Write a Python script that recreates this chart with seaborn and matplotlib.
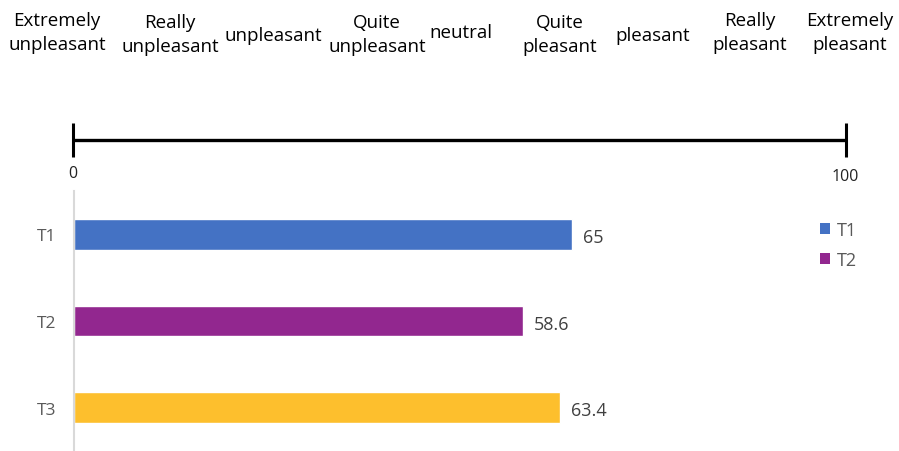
import numpy as np
import pandas as pd
import matplotlib
matplotlib.use("Agg")
import matplotlib.pyplot as plt
import seaborn as sns
from matplotlib.patches import Patch

# ---- data ----
categories = ["T1", "T2", "T3"]
values = [65, 58.6, 63.4]
value_labels = ["65", "58.6", "63.4"]
legend_entries = ["T1", "T2"]
scale_labels = ["Extremely\nunpleasant", "Really\nunpleasant", "unpleasant",
                "Quite\nunpleasant", "neutral", "Quite\npleasant", "pleasant",
                "Really\npleasant", "Extremely\npleasant"]
scale_ticks = [0, 100]

# ---- style ----
colors = ["#4472C4", "#92278F", "#FDBF2D"]
sns.set_theme(style="white")
plt.rcParams["font.family"] = ["Open Sans", "DejaVu Sans"]

W, H = 899, 452
fig = plt.figure(figsize=(W / 100, H / 100), dpi=100)

def fx(px):
    return px / W

def fy(py):
    return 1 - py / H

# ---- top scale axis ----
x0, x1 = 73, 846
ax_top = fig.add_axes([fx(x0), fy(160), fx(x1 - x0), (160 - 122) / H])
ax_top.set_xlim(0, 100)
ax_top.set_ylim(-1, 1)
ax_top.axis("off")
ax_top.plot([0, 100], [0, 0], color="black", lw=2.4, solid_capstyle="butt", clip_on=False)
ax_top.vlines(scale_ticks, -0.9, 0.9, color="black", lw=2.2, clip_on=False)

# tick numbers under the scale
fig.text(fx(73), fy(174), str(scale_ticks[0]), ha="center", va="center",
         fontsize=11.5, color="#222222")
fig.text(fx(845), fy(177), str(scale_ticks[1]), ha="center", va="center",
         fontsize=11.5, color="#222222")

# descriptive labels above the scale
label_x = [57, 170, 273, 377, 461, 560, 653, 750, 850]
label_y = [33, 35, 36, 35, 33, 35, 36, 33, 33]
for lx, ly, txt in zip(label_x, label_y, scale_labels):
    fig.text(fx(lx), fy(ly), txt, ha="center", va="center", fontsize=13.5,
             color="black", linespacing=1.45)

# ---- bar axis ----
bl, br, bt, bb = 74, 840, 192, 452
ax = fig.add_axes([fx(bl), fy(bb), fx(br - bl), (bb - bt) / H])
df = pd.DataFrame({"cat": categories, "val": values})
sns.barplot(data=df, y="cat", x="val", hue="cat", palette=colors, orient="h",
            width=0.355, dodge=False, legend=False, ax=ax, saturation=1)
ax.set_xlim(0, 100)
ax.set_ylim(2.5, -0.5)
ax.set_xlabel("")
ax.set_ylabel("")
ax.set_xticks([])
for s in ["top", "right", "bottom"]:
    ax.spines[s].set_visible(False)
ax.spines["left"].set_color("#d9d9d9")
ax.spines["left"].set_linewidth(1.5)
ax.tick_params(axis="y", length=0, pad=13, labelcolor="#595959")
for t in ax.get_yticklabels():
    t.set_fontsize(12.5)
ax.patch.set_alpha(0)

for i, (v, lab) in enumerate(zip(values, value_labels)):
    ax.annotate(lab, (v, i), xytext=(8, -2), textcoords="offset points",
                ha="left", va="center", fontsize=13, color="#404040")

handles = [Patch(facecolor=colors[i], edgecolor="none") for i in range(len(legend_entries))]
fig.legend(handles, legend_entries, loc="upper left",
           bbox_to_anchor=(fx(804), fy(206)), frameon=False, fontsize=13,
           handlelength=0.55, handleheight=0.55, handletextpad=0.35,
           labelspacing=0.65, labelcolor="#595959")

fig.savefig("out.png", dpi=100, facecolor="white")
